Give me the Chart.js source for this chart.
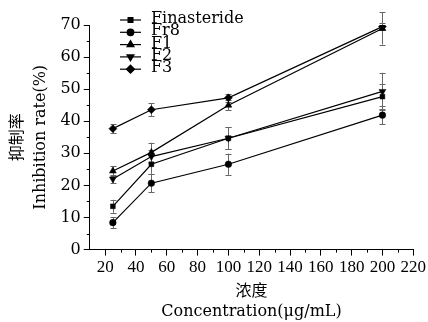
<!DOCTYPE html>
<html>
<head>
<meta charset="utf-8">
<script src="https://cdn.jsdelivr.net/npm/chart.js@4.4.1/dist/chart.umd.min.js"></script>
<style>
html,body{margin:0;padding:0;background:#fff;}
#wrap{width:428px;height:322px;position:relative;}
</style>
</head>
<body>
<div id="wrap"><canvas id="c"></canvas></div>
<script>
// ---- data ----
const concentrations = [25, 50, 100, 200];
const seriesNames = ['Finasteride', 'Fr8', 'F1', 'F2', 'F3'];
const finasteride = [13.5, 26.6, 34.7, 47.7];
const finasterideErr = [2.0, 3.0, 3.5, 4.0];
const fr8 = [8.4, 20.7, 26.6, 41.9];
const fr8Err = [1.7, 2.8, 3.3, 2.8];
const f1 = [24.5, 30.3, 45.0, 68.9];
const f1Err = [1.5, 3.0, 1.5, 5.0];
const f2 = [22.0, 29.0, 34.7, 49.3];
const f2Err = [1.3, 2.0, 3.5, 5.8];
const f3 = [37.7, 43.6, 47.3, 69.5];
const f3Err = [1.4, 2.0, 1.2, 1.2];
const xTicks = [20, 40, 60, 80, 100, 120, 140, 160, 180, 200, 220];
const xMinorTicks = [30, 50, 70, 90, 110, 130, 150, 170, 190, 210];
const yTicks = [0, 10, 20, 30, 40, 50, 60, 70];
const yMinorTicks = [5, 15, 25, 35, 45, 55, 65];

const WIDE = "'DejaVu Serif', 'Noto Sans CJK SC', serif";
const NARROW = "'Liberation Serif', 'Noto Sans CJK SC', serif";
const values = [finasteride, fr8, f1, f2, f3];
const errors = [finasterideErr, fr8Err, f1Err, f2Err, f3Err];
const styles = [
  {pointStyle: 'rect', rotation: 0, radius: 3.4},
  {pointStyle: 'circle', rotation: 0, radius: 3.3},
  {pointStyle: 'triangle', rotation: 0, radius: 4},
  {pointStyle: 'triangle', rotation: 180, radius: 4},
  {pointStyle: 'rectRot', rotation: 0, radius: 4}
];

const datasets = seriesNames.map((name, i) => ({
  label: name,
  data: concentrations.map((x, j) => ({x: x, y: values[i][j]})),
  errs: errors[i],
  borderColor: '#000',
  backgroundColor: '#000',
  borderWidth: 1.2,
  pointStyle: styles[i].pointStyle,
  pointRotation: styles[i].rotation,
  pointRadius: styles[i].radius,
  pointBackgroundColor: '#000',
  pointBorderColor: '#000',
  pointBorderWidth: 0.5,
  tension: 0
}));

const extras = {
  id: 'extras',
  beforeDatasetsDraw(chart) {
    const ctx = chart.ctx;
    const xs = chart.scales.x, ys = chart.scales.y;
    ctx.save();
    ctx.strokeStyle = '#666';
    ctx.lineWidth = 1;
    chart.data.datasets.forEach(ds => {
      ds.data.forEach((p, j) => {
        const e = ds.errs[j];
        const px = Math.round(xs.getPixelForValue(p.x)) + 0.5;
        const top = ys.getPixelForValue(p.y + e);
        const bot = ys.getPixelForValue(p.y - e);
        ctx.beginPath();
        ctx.moveTo(px, top); ctx.lineTo(px, bot);
        ctx.moveTo(px - 3, Math.round(top) + 0.5); ctx.lineTo(px + 3, Math.round(top) + 0.5);
        ctx.moveTo(px - 3, Math.round(bot) + 0.5); ctx.lineTo(px + 3, Math.round(bot) + 0.5);
        ctx.stroke();
      });
    });
    ctx.restore();
  },
  afterDraw(chart) {
    const ctx = chart.ctx;
    const xs = chart.scales.x, ys = chart.scales.y;
    const area = chart.chartArea;
    ctx.save();
    ctx.strokeStyle = '#000';
    ctx.lineWidth = 1;
    // minor ticks
    ctx.beginPath();
    xMinorTicks.forEach(v => {
      const px = Math.round(xs.getPixelForValue(v)) + 0.5;
      ctx.moveTo(px, area.bottom); ctx.lineTo(px, area.bottom + 3);
    });
    yMinorTicks.forEach(v => {
      const py = Math.round(ys.getPixelForValue(v)) + 0.5;
      ctx.moveTo(area.left, py); ctx.lineTo(area.left - 3, py);
    });
    ctx.stroke();
    // legend
    const lx0 = 120, lx1 = 141, tx = 151, y0 = 20, dy = 12.3;
    ctx.font = '16px ' + WIDE;
    ctx.textBaseline = 'middle';
    ctx.textAlign = 'left';
    ctx.fillStyle = '#000';
    chart.data.datasets.forEach((ds, i) => {
      const y = y0 + i * dy;
      ctx.lineWidth = 1.2;
      ctx.strokeStyle = '#000';
      ctx.beginPath();
      ctx.moveTo(lx0, y); ctx.lineTo(lx1, y);
      ctx.stroke();
      Chart.helpers.drawPoint(ctx, {pointStyle: ds.pointStyle, rotation: ds.pointRotation, radius: ds.pointRadius, borderWidth: 0.5}, (lx0 + lx1) / 2, y);
      ctx.fill();
      ctx.fillText(ds.label, tx, y - 1);
    });
    ctx.restore();
  }
};

new Chart(document.getElementById('c'), {
  type: 'line',
  data: {datasets: datasets},
  options: {
    responsive: true,
    maintainAspectRatio: false,
    animation: false,
    layout: {padding: {left: 6, top: 25, right: 0, bottom: 0}},
    plugins: {legend: {display: false}, tooltip: {enabled: false}},
    scales: {
      x: {
        type: 'linear',
        min: 10, max: 220,
        afterBuildTicks: s => { s.ticks = xTicks.map(v => ({value: v})); },
        ticks: {color: '#000', font: {family: NARROW, size: 17}, padding: 2, maxRotation: 0, autoSkip: false},
        grid: {display: true, drawOnChartArea: false, drawTicks: true, tickLength: 6, color: '#000', tickColor: '#000'},
        border: {display: true, color: '#000', width: 1},
        title: {display: true, text: ['浓度', 'Concentration(μg/mL)'], color: '#000', font: {family: WIDE, size: 16, lineHeight: 1.25}, padding: {top: 2, bottom: 0}}
      },
      y: {
        type: 'linear',
        min: 0, max: 70,
        afterBuildTicks: s => { s.ticks = yTicks.map(v => ({value: v})); },
        ticks: {color: '#000', font: {family: WIDE, size: 16}, padding: 3},
        grid: {display: true, drawOnChartArea: false, drawTicks: true, tickLength: 6, color: '#000', tickColor: '#000'},
        border: {display: true, color: '#000', width: 1},
        title: {display: true, text: ['抑制率', 'Inhibition rate(%)'], color: '#000', font: {family: WIDE, size: 16, lineHeight: 1.45}, padding: {top: 0, bottom: 5}}
      }
    }
  },
  plugins: [extras]
});
</script>
</body>
</html>
